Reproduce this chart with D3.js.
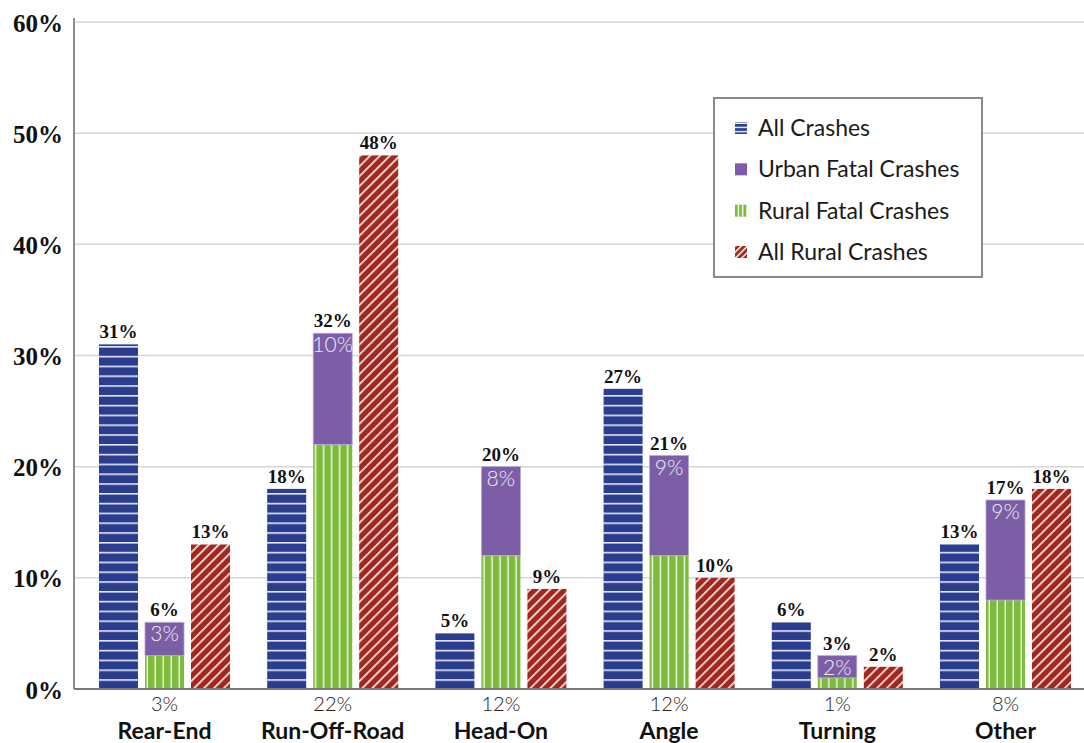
<!DOCTYPE html>
<html>
<head>
<meta charset="utf-8">
<script src="https://cdn.jsdelivr.net/npm/d3@7"></script>
<style>
  html, body { margin: 0; padding: 0; background: #fff; }
  svg { display: block; }
</style>
</head>
<body>
<svg id="chart" width="1084" height="743"></svg>
<script>
// Crash type shares (%)
const categories = ["Rear-End", "Run-Off-Road", "Head-On", "Angle", "Turning", "Other"];
const allCrashes = [31, 18, 5, 27, 6, 13];
const ruralFatal = [3, 22, 12, 12, 1, 8];
const urbanFatal = [3, 10, 8, 9, 2, 9];
const allRural = [13, 48, 9, 10, 2, 18];
const yTicks = [0, 10, 20, 30, 40, 50, 60];
const legendLabels = ["All Crashes", "Urban Fatal Crashes", "Rural Fatal Crashes", "All Rural Crashes"];

const colors = { blue: "#2b3d8e", purple: "#7c5ea7", green: "#7dbb3c", red: "#a2281f" };

const svg = d3.select("#chart");
const margin = { left: 74, right: 1084, top: 22, bottom: 689 };

const y = d3.scaleLinear().domain([0, 60]).range([margin.bottom, margin.top]);
const x = d3.scaleBand().domain(categories).range([80.4, 1089.6])
  .paddingInner(0.221).paddingOuter(0.1105);
const xInner = d3.scaleBand().domain(["all", "fatal", "rural"])
  .range([0, x.bandwidth()]).paddingInner(0.152);

const defs = svg.append("defs");

// Horizontal stripes: All Crashes
const pBlue = defs.append("pattern").attr("id", "pBlue")
  .attr("patternUnits", "userSpaceOnUse").attr("width", 10).attr("height", 9.8)
  .attr("y", margin.bottom);
pBlue.append("rect").attr("width", 10).attr("height", 9.8).attr("fill", colors.blue);
pBlue.append("rect").attr("y", 0).attr("width", 10).attr("height", 1.6).attr("fill", "#e6e9f4");

// Diagonal stripes: All Rural Crashes
const pRed = defs.append("pattern").attr("id", "pRed")
  .attr("patternUnits", "userSpaceOnUse").attr("width", 7).attr("height", 10)
  .attr("patternTransform", "rotate(45)");
pRed.append("rect").attr("width", 7).attr("height", 10).attr("fill", colors.red);
pRed.append("rect").attr("x", 0).attr("width", 1.7).attr("height", 10).attr("fill", "#f6e6e4");

// Vertical stripes: Rural Fatal Crashes, one tile origin per bar
categories.forEach((c, i) => {
  const bx = x(c) + xInner("fatal");
  const p = defs.append("pattern").attr("id", "pGreen" + i)
    .attr("patternUnits", "userSpaceOnUse").attr("width", 8).attr("height", 10)
    .attr("x", bx);
  p.append("rect").attr("width", 8).attr("height", 10).attr("fill", colors.green);
  p.append("rect").attr("x", 6.6).attr("width", 1.9).attr("height", 10).attr("fill", "#f4f9ee");
});
const pGreenLegend = defs.append("pattern").attr("id", "pGreenLegend")
  .attr("patternUnits", "userSpaceOnUse").attr("width", 4.2).attr("height", 10).attr("x", 735);
pGreenLegend.append("rect").attr("width", 4.2).attr("height", 10).attr("fill", colors.green);
pGreenLegend.append("rect").attr("x", 2.8).attr("width", 1.4).attr("height", 10).attr("fill", "#fff");
const pBlueLegend = defs.append("pattern").attr("id", "pBlueLegend")
  .attr("patternUnits", "userSpaceOnUse").attr("width", 10).attr("height", 4.2).attr("y", 122);
pBlueLegend.append("rect").attr("width", 10).attr("height", 4.2).attr("fill", colors.blue);
pBlueLegend.append("rect").attr("y", 2.8).attr("width", 10).attr("height", 1.4).attr("fill", "#fff");
const pRedLegend = defs.append("pattern").attr("id", "pRedLegend")
  .attr("patternUnits", "userSpaceOnUse").attr("width", 4.4).attr("height", 10)
  .attr("patternTransform", "rotate(45)");
pRedLegend.append("rect").attr("width", 4.4).attr("height", 10).attr("fill", colors.red);
pRedLegend.append("rect").attr("width", 1.4).attr("height", 10).attr("fill", "#fff");

// Gridlines
svg.append("g").selectAll("line").data(yTicks.filter(d => d > 0)).join("line")
  .attr("x1", margin.left).attr("x2", margin.right)
  .attr("y1", d => y(d)).attr("y2", d => y(d))
  .attr("stroke", "#d6d6d6").attr("stroke-width", 1.5);

// Y axis
const yAxis = svg.append("g").attr("transform", `translate(${margin.left},0)`)
  .call(d3.axisLeft(y).tickValues(yTicks).tickSize(0).tickPadding(11).tickFormat(d => d + "%"));
yAxis.select(".domain").remove();
yAxis.selectAll("text")
  .attr("font-family", "'Liberation Serif', 'DejaVu Serif', serif")
  .attr("font-weight", "bold").attr("font-size", 25).attr("fill", "#111")
  .attr("dy", "0.36em");
svg.append("line").attr("x1", margin.left).attr("x2", margin.left)
  .attr("y1", margin.top - 4).attr("y2", margin.bottom)
  .attr("stroke", "#8c8c8c").attr("stroke-width", 2);

const valueFont = "'Liberation Serif', 'DejaVu Serif', serif";
const sansFont = "Lato, 'Open Sans', sans-serif";

const groups = svg.append("g").selectAll("g").data(categories).join("g")
  .attr("transform", d => `translate(${x(d)},0)`);
const bw = xInner.bandwidth();

// All Crashes bars
groups.append("rect")
  .attr("x", xInner("all")).attr("width", bw)
  .attr("y", (d, i) => y(allCrashes[i])).attr("height", (d, i) => y(0) - y(allCrashes[i]))
  .attr("fill", "url(#pBlue)");

// Rural fatal (bottom) + urban fatal (top) stack
groups.append("rect")
  .attr("x", xInner("fatal")).attr("width", bw)
  .attr("y", (d, i) => y(ruralFatal[i])).attr("height", (d, i) => y(0) - y(ruralFatal[i]))
  .attr("fill", (d, i) => `url(#pGreen${i})`);
groups.append("rect")
  .attr("x", xInner("fatal")).attr("width", bw)
  .attr("y", (d, i) => y(ruralFatal[i] + urbanFatal[i]))
  .attr("height", (d, i) => y(ruralFatal[i]) - y(ruralFatal[i] + urbanFatal[i]))
  .attr("fill", colors.purple).attr("stroke", "#b9a9d3").attr("stroke-width", 0.8);

// All Rural bars
groups.append("rect")
  .attr("x", xInner("rural")).attr("width", bw)
  .attr("y", (d, i) => y(allRural[i])).attr("height", (d, i) => y(0) - y(allRural[i]))
  .attr("fill", "url(#pRed)");

// Value labels above bars
function topLabel(key, values) {
  groups.append("text")
    .attr("x", xInner(key) + bw / 2)
    .attr("y", (d, i) => y(values[i]) - 6)
    .attr("text-anchor", "middle")
    .attr("font-family", valueFont).attr("font-weight", "bold").attr("font-size", 19)
    .attr("fill", "#111")
    .text((d, i) => values[i] + "%");
}
topLabel("all", allCrashes);
topLabel("fatal", ruralFatal.map((v, i) => v + urbanFatal[i]));
topLabel("rural", allRural);

// Urban fatal share inside purple segment
groups.append("text")
  .attr("x", xInner("fatal") + bw / 2)
  .attr("y", (d, i) => y(ruralFatal[i] + urbanFatal[i]) + 19)
  .attr("text-anchor", "middle")
  .attr("font-family", sansFont).attr("font-weight", 300).attr("font-size", 21)
  .attr("fill", "#efeaf6")
  .text((d, i) => urbanFatal[i] + "%");

// Rural fatal share below the axis
groups.append("text")
  .attr("x", xInner("fatal") + bw / 2)
  .attr("y", 711)
  .attr("text-anchor", "middle")
  .attr("font-family", sansFont).attr("font-weight", 300).attr("font-size", 20)
  .attr("fill", "#222")
  .text((d, i) => ruralFatal[i] + "%");

// Category labels
groups.append("text")
  .attr("x", x.bandwidth() / 2)
  .attr("y", 739)
  .attr("text-anchor", "middle")
  .attr("font-family", sansFont).attr("font-weight", "bold").attr("font-size", 23)
  .attr("fill", "#111")
  .text(d => d);

// X axis baseline
svg.append("line").attr("x1", margin.left).attr("x2", margin.right)
  .attr("y1", margin.bottom).attr("y2", margin.bottom)
  .attr("stroke", "#7a7a7a").attr("stroke-width", 2);

// Legend
const legend = svg.append("g");
legend.append("rect").attr("x", 714).attr("y", 98).attr("width", 268).attr("height", 179)
  .attr("fill", "#fff").attr("stroke", "#8a8a8a").attr("stroke-width", 2);
const legendFills = ["url(#pBlueLegend)", colors.purple, "url(#pGreenLegend)", "url(#pRedLegend)"];
const legendY = d3.scalePoint().domain(legendLabels).range([128, 252]);
const items = legend.selectAll("g.item").data(legendLabels).join("g").attr("class", "item")
  .attr("transform", d => `translate(0,${legendY(d)})`);
items.append("rect").attr("x", 735).attr("y", -6).attr("width", 12).attr("height", 12)
  .attr("fill", (d, i) => legendFills[i]);
items.append("text").attr("x", 758).attr("y", 0).attr("dy", "0.35em")
  .attr("font-family", sansFont).attr("font-weight", 400).attr("font-size", 23)
  .attr("fill", "#1a1a1a")
  .text(d => d);
</script>
</body>
</html>
